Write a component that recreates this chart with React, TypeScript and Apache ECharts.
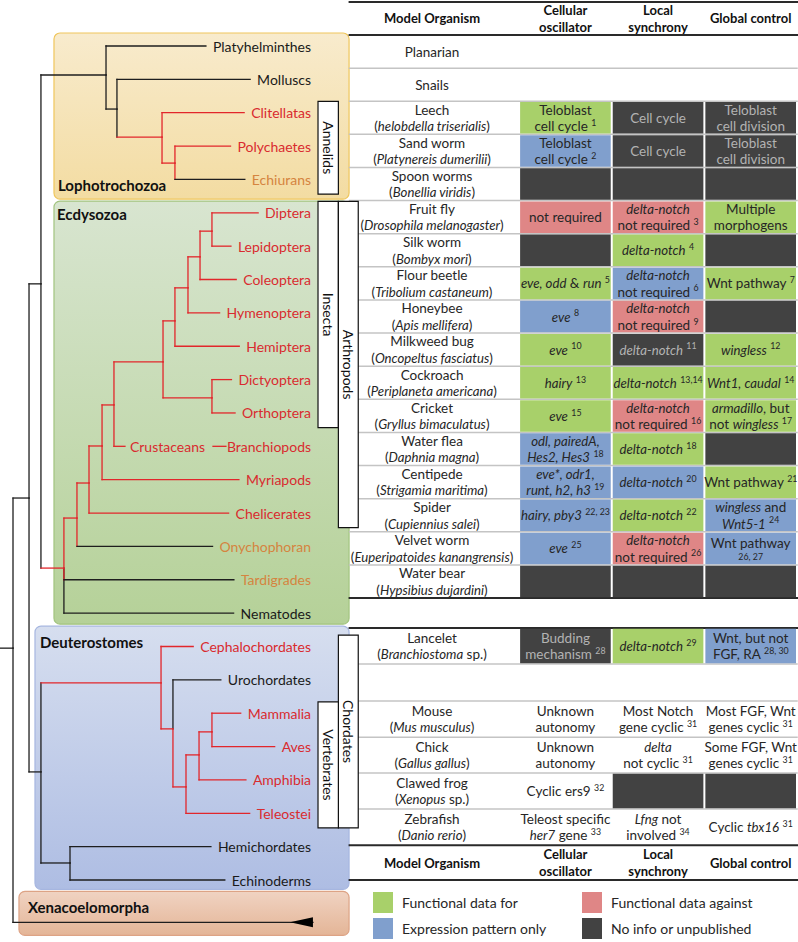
import React, { useEffect, useRef } from "react";
import * as echarts from "echarts";

const FONT = "Lato, 'Open Sans', 'Noto Sans', sans-serif";

// ---------------- Phylogeny ----------------
const CLADES = ["Metazoa", "Bilateria", "Protostomia", "Lophotrochozoa", "Mollusca+Annelida", "Annelida", "Polychaeta+Echiura", "Ecdysozoa", "Panarthropoda", "Arthropoda", "Mandibulata", "Pancrustacea", "Insecta", "Insecta-a", "Insecta-b", "Insecta-c", "Diptera+Lepidoptera", "Dictyoptera+Orthoptera", "Deuterostomia", "Chordata", "Olfactores", "Vertebrata", "Tetrapoda", "Amniota", "Ambulacraria"];
const CLADE_PARENT = ["", "Metazoa", "Bilateria", "Protostomia", "Lophotrochozoa", "Mollusca+Annelida", "Annelida", "Protostomia", "Ecdysozoa", "Panarthropoda", "Arthropoda", "Mandibulata", "Pancrustacea", "Insecta", "Insecta-a", "Insecta-b", "Insecta-c", "Insecta", "Bilateria", "Deuterostomia", "Chordata", "Olfactores", "Vertebrata", "Tetrapoda", "Deuterostomia"];
const CLADE_DEPTH = [0, 1.29, 2.25, 7.49, 8.37, 12.0, 13.04, 4.1, 5.15, 6.12, 7.17, 8.13, 12.08, 13.04, 14.09, 15.06, 16.02, 16.02, 2.25, 11.92, 12.88, 13.93, 14.98, 16.02, 4.59];
const CLADE_ROW = [18.05, 13.55, 7.13, 0.87, 1.89, 2.73, 3.51, 15.65, 14.15, 13.1, 11.99, 10.76, 9.47, 8.24, 7.25, 6.32, 5.55, 10.55, 21.76, 19.09, 20.47, 22.21, 21.25, 20.56, 24.49];
const CLADE_SEGMENTED = [0, 0, 0, 0, 0, 1, 1, 1, 1, 1, 1, 1, 1, 1, 1, 1, 1, 1, 0, 1, 1, 1, 1, 1, 0];

const TAXA = ["Platyhelminthes", "Molluscs", "Clitellatas", "Polychaetes", "Echiurans", "Diptera", "Lepidoptera", "Coleoptera", "Hymenoptera", "Hemiptera", "Dictyoptera", "Orthoptera", "Branchiopods", "Myriapods", "Chelicerates", "Onychophoran", "Tardigrades", "Nematodes", "Cephalochordates", "Urochordates", "Mammalia", "Aves", "Amphibia", "Teleostei", "Hemichordates", "Echinoderms"];
const TAXON_PARENT = ["Lophotrochozoa", "Mollusca+Annelida", "Annelida", "Polychaeta+Echiura", "Polychaeta+Echiura", "Diptera+Lepidoptera", "Diptera+Lepidoptera", "Insecta-c", "Insecta-b", "Insecta-a", "Dictyoptera+Orthoptera", "Dictyoptera+Orthoptera", "Pancrustacea", "Mandibulata", "Arthropoda", "Panarthropoda", "Ecdysozoa", "Ecdysozoa", "Chordata", "Olfactores", "Amniota", "Amniota", "Tetrapoda", "Vertebrata", "Ambulacraria", "Ambulacraria"];
const TAXON_SEGMENTATION = ["no", "no", "yes", "yes", "partial", "yes", "yes", "yes", "yes", "yes", "yes", "yes", "yes", "yes", "yes", "partial", "partial", "no", "yes", "no", "yes", "yes", "yes", "yes", "no", "no"];
const BLACK_STEM_TAXA = ["Nematodes", "Urochordates"];
const INLINE_TAXA = ["Branchiopods"];
const INLINE_CLADE_LABELS = ["Crustaceans"];
const OUTGROUP_ROW = 26.27;

const GROUPS = ["Lophotrochozoa", "Ecdysozoa", "Deuterostomes", "Xenacoelomorpha"];
const BRACKETS = ["Annelids", "Insecta", "Arthropods", "Chordates", "Vertebrates"];
const BRACKET_FIRST = ["Clitellatas", "Diptera", "Diptera", "Cephalochordates", "Mammalia"];
const BRACKET_LAST = ["Echiurans", "Orthoptera", "Chelicerates", "Teleostei", "Teleostei"];
const BRACKET_LANE = [0, 0, 1, 1, 0];

// ---------------- Table ----------------
const COLUMNS = ["Model Organism", "Cellular\noscillator", "Local\nsynchrony", "Global control"];
const ORGANISMS = [
  "Planarian", "Snails", "Leech\n(_helobdella triserialis_)", "Sand worm\n(_Platynereis dumerilii_)",
  "Spoon worms\n(_Bonellia viridis_)", "Fruit fly\n(_Drosophila melanogaster_)", "Silk worm\n(_Bombyx mori_)",
  "Flour beetle\n(_Tribolium castaneum_)", "Honeybee\n(_Apis mellifera_)", "Milkweed bug\n(_Oncopeltus fasciatus_)",
  "Cockroach\n(_Periplaneta americana_)", "Cricket\n(_Gryllus bimaculatus_)", "Water flea\n(_Daphnia magna_)",
  "Centipede\n(_Strigamia maritima_)", "Spider\n(_Cupiennius salei_)", "Velvet worm\n(_Euperipatoides kanangrensis_)",
  "Water bear\n(_Hypsibius dujardini_)", "", "Lancelet\n(_Branchiostoma_ sp.)", "",
  "Mouse\n(_Mus musculus_)", "Chick\n(_Gallus gallus_)", "Clawed frog\n(_Xenopus_ sp.)", "Zebrafish\n(_Danio rerio_)",
];
const OSCILLATOR = ["", "", "Teloblast\ncell cycle ^1^", "Teloblast\ncell cycle ^2^", "", "not required", "", "_eve, odd_ & _run_ ^5^", "_eve_ ^8^", "_eve_ ^10^", "_hairy_ ^13^", "_eve_ ^15^", "_odl, pairedA,_\n_Hes2, Hes3_ ^18^", "_eve*, odr1,_\n_runt, h2, h3_ ^19^", "_hairy, pby3_ ^22, 23^", "_eve_ ^25^", "", "", "Budding\nmechanism ^28^", "", "Unknown\nautonomy", "Unknown\nautonomy", "Cyclic ers9 ^32^", "Teleost specific\n_her7_ gene ^33^"];
const OSCILLATOR_EVIDENCE = ["", "", "F", "E", "N", "A", "N", "F", "E", "F", "F", "F", "E", "E", "E", "E", "N", "", "N", "", "", "", "", ""];
const SYNCHRONY = ["", "", "Cell cycle", "Cell cycle", "", "_delta-notch_\nnot required ^3^", "_delta-notch_ ^4^", "_delta-notch_\nnot required ^6^", "_delta-notch_\nnot required ^9^", "_delta-notch_ ^11^", "_delta-notch_ ^13,14^", "_delta-notch_\nnot required ^16^", "_delta-notch_ ^18^", "_delta-notch_ ^20^", "_delta-notch_ ^22^", "_delta-notch_\nnot required ^26^", "", "", "_delta-notch_ ^29^", "", "Most Notch\ngene cyclic ^31^", "_delta_\nnot cyclic ^31^", "", "_Lfng_ not\ninvolved ^34^"];
const SYNCHRONY_EVIDENCE = ["", "", "N", "N", "N", "A", "F", "E", "A", "N", "F", "A", "F", "E", "F", "A", "N", "", "F", "", "", "", "N", ""];
const GLOBAL_CONTROL = ["", "", "Teloblast\ncell division", "Teloblast\ncell division", "", "Multiple\nmorphogens", "", "Wnt pathway ^7^", "", "_wingless_ ^12^", "_Wnt1, caudal_ ^14^", "_armadillo_, but\nnot _wingless_ ^17^", "", "Wnt pathway ^21^", "_wingless_ and\n_Wnt5-1_ ^24^", "Wnt pathway\n^26, 27^", "", "", "Wnt, but not\nFGF, RA ^28, 30^", "", "Most FGF, Wnt\ngenes cyclic ^31^", "Some FGF, Wnt\ngenes cyclic ^31^", "", "Cyclic _tbx16_ ^31^"];
const GLOBAL_EVIDENCE = ["", "", "N", "N", "N", "F", "N", "F", "N", "F", "F", "F", "N", "F", "E", "E", "N", "", "E", "", "", "", "N", ""];
const EVIDENCE_CODES = ["F", "E", "A", "N"];
const EVIDENCE_NAMES = ["Functional data for", "Expression pattern only", "Functional data against", "No info or unpublished"];

// ---------------- Styling / layout ----------------
const INK = "#262626";
const TREE_BLACK = "#1e1e1e";
const TREE_RED = "#e2262b";
const LABEL_RED = "#d92b2f";
const LABEL_ORANGE = "#d5843f";
const EVIDENCE_FILL = ["#a8d06a", "#809fcd", "#df8686", "#424242"];
const DARK_TEXT = "#b3b3b3";

const LABEL_DEPTH = 24.0;
const STEM_DEPTH = -1.05;
const OUTGROUP_END = 24.15;
const ARROW_TIP = 22.3;
const GROUP_LEFT = [3.3, 3.3, 1.77, 0.48];
const GROUP_RIGHT = 27.06;
const GROUP_TOP = [-0.39, 4.65, 17.39, 25.34];
const GROUP_BOTTOM = [4.59, 17.33, 25.28, 26.66];
const GROUP_TITLE_X = [3.62, 3.54, 2.17, 1.21];
const GROUP_TITLE_ROW = [4.17, 5.04, 17.87, 25.81];
const GROUP_FILL = [["#f8ebcd", "#f3dca2"], ["#d8e5d0", "#b5d198"], ["#d6deef", "#aebde3"], ["#f0d3c2", "#e4b597"]];
const GROUP_STROKE = ["#efc65c", "#a2c47f", "#a6b6e0", "#dda385"];
const LANES = [[24.56, 26.2], [26.2, 27.8]];
const ROW_SPANS = [1, 1, 1, 1, 1, 1, 1, 1, 1, 1, 1, 1, 1, 1, 1, 1, 1, 0.9, 1.09, 1.12, 1.09, 1.08, 1.09, 1.09, 1.05];
const THICK_EDGES = [0, 17, 18, 24, 25];
const COL_CENTER = [-0.94, 0.5, 1.5, 2.5];
const RULE_START = -1.83;

const ROW_EDGES: number[] = [0];
ROW_SPANS.forEach((s, i) => ROW_EDGES.push(+(ROW_EDGES[i] + s).toFixed(3)));

let measureCtx: any = null;
function measure(text: string, size: number, weight = "normal") {
  if (!measureCtx) measureCtx = document.createElement("canvas").getContext("2d");
  measureCtx.font = `${weight} ${size}px ${FONT}`;
  return measureCtx.measureText(text).width;
}

const RICH = {
  n: { fontFamily: FONT, fontSize: 13.5, lineHeight: 16.5 },
  i: { fontFamily: FONT, fontSize: 13.2, fontStyle: "italic", lineHeight: 16.5 },
  s: { fontFamily: FONT, fontSize: 8.8, lineHeight: 10, verticalAlign: "top" },
};

function toRich(s: string) {
  return s
    .split("\n")
    .map((line) => {
      let out = "";
      let buf = "";
      let italic = false;
      let sup = false;
      const flush = () => {
        if (buf) {
          out += `{${sup ? "s" : italic ? "i" : "n"}|${buf}}`;
          buf = "";
        }
      };
      for (const ch of line) {
        if (ch === "_") { flush(); italic = !italic; }
        else if (ch === "^") { flush(); sup = !sup; }
        else buf += ch;
      }
      flush();
      return out;
    })
    .join("\n");
}

function richText(x: number, y: number, markup: string, fill: string) {
  return {
    type: "text",
    x,
    y,
    style: { text: toRich(markup), rich: RICH, fill, fontFamily: FONT, fontSize: 13.5, lineHeight: 16.5, align: "center", verticalAlign: "middle" },
  };
}

function seg(x1: number, y1: number, x2: number, y2: number, stroke: string, lineWidth = 1.3) {
  return { type: "line", shape: { x1, y1, x2, y2 }, style: { stroke, lineWidth, lineCap: "square" } };
}

function buildOption() {
  const ci = (n: string) => CLADES.indexOf(n);
  // --- tree edges ---
  const edges: number[][] = [];
  CLADES.forEach((c, j) => {
    if (!CLADE_PARENT[j]) return;
    const p = ci(CLADE_PARENT[j]);
    edges.push([CLADE_DEPTH[p], CLADE_ROW[p], CLADE_DEPTH[p], CLADE_ROW[j], CLADE_SEGMENTED[p]]);
    edges.push([CLADE_DEPTH[p], CLADE_ROW[j], CLADE_DEPTH[j], CLADE_ROW[j], CLADE_SEGMENTED[j]]);
  });
  TAXA.forEach((t, j) => {
    const p = ci(TAXON_PARENT[j]);
    const red = CLADE_SEGMENTED[p] && BLACK_STEM_TAXA.indexOf(t) < 0 ? 1 : 0;
    edges.push([CLADE_DEPTH[p], CLADE_ROW[p], CLADE_DEPTH[p], j, red]);
  });
  const root = ci("Metazoa");
  edges.push([CLADE_DEPTH[root], CLADE_ROW[root], CLADE_DEPTH[root], OUTGROUP_ROW, 0]);
  edges.push([STEM_DEPTH, CLADE_ROW[root], CLADE_DEPTH[root], CLADE_ROW[root], 0]);
  edges.sort((a, b) => a[4] - b[4]);

  const treeAxes = { coordinateSystem: "cartesian2d", xAxisIndex: 0, yAxisIndex: 0, silent: true, clip: false };
  const tableAxes = { coordinateSystem: "cartesian2d", xAxisIndex: 1, yAxisIndex: 1, silent: true, clip: false };

  const groupSeries = {
    type: "custom", ...treeAxes, z: 1,
    data: GROUPS.map((g, i) => [GROUP_LEFT[i], GROUP_TOP[i], i]),
    renderItem: (params: any, api: any) => {
      const i = api.value(2);
      const a = api.coord([GROUP_LEFT[i], GROUP_TOP[i]]);
      const b = api.coord([GROUP_RIGHT, GROUP_BOTTOM[i]]);
      const t = api.coord([GROUP_TITLE_X[i], GROUP_TITLE_ROW[i]]);
      return {
        type: "group",
        children: [
          {
            type: "rect",
            shape: { x: a[0], y: a[1], width: b[0] - a[0], height: b[1] - a[1], r: 6 },
            style: {
              fill: new echarts.graphic.LinearGradient(0, 0, 0, 1, [
                { offset: 0, color: GROUP_FILL[i][0] },
                { offset: 1, color: GROUP_FILL[i][1] },
              ]),
              stroke: GROUP_STROKE[i],
              lineWidth: 1.2,
            },
          },
          {
            type: "text", x: t[0], y: t[1],
            style: { text: GROUPS[i], fill: "#111", fontFamily: FONT, fontSize: 15, fontWeight: "bold", align: "left", verticalAlign: "middle" },
          },
        ],
      };
    },
  };

  const edgeSeries = {
    type: "custom", ...treeAxes, z: 2,
    data: edges,
    renderItem: (params: any, api: any) => {
      const p1 = api.coord([api.value(0), api.value(1)]);
      const p2 = api.coord([api.value(2), api.value(3)]);
      return seg(p1[0], p1[1], p2[0], p2[1], api.value(4) ? TREE_RED : TREE_BLACK);
    },
  };

  const taxaSeries = {
    type: "custom", ...treeAxes, z: 3,
    data: TAXA.map((t, j) => [CLADE_DEPTH[ci(TAXON_PARENT[j])], j, j]),
    renderItem: (params: any, api: any) => {
      const j = api.value(2);
      const name = TAXA[j];
      const start = api.coord([api.value(0), api.value(1)]);
      const anchor = api.coord([LABEL_DEPTH, api.value(1)]);
      const status = TAXON_SEGMENTATION[j];
      const branch = status === "yes" ? TREE_RED : TREE_BLACK;
      const color = status === "yes" ? LABEL_RED : status === "partial" ? LABEL_ORANGE : "#1a1a1a";
      const labelLeft = anchor[0] - measure(name, 14);
      const children: any[] = [];
      const k = INLINE_TAXA.indexOf(name);
      if (k >= 0) {
        const tx = start[0] + 16;
        const tw = measure(INLINE_CLADE_LABELS[k], 14);
        children.push(seg(start[0], start[1], start[0] + 11, start[1], branch));
        children.push({ type: "text", x: tx, y: start[1], style: { text: INLINE_CLADE_LABELS[k], fill: color, fontFamily: FONT, fontSize: 14, align: "left", verticalAlign: "middle" } });
        children.push(seg(tx + tw + 8, start[1], labelLeft - 1, start[1], branch));
      } else {
        children.push(seg(start[0], start[1], labelLeft - 7, start[1], branch));
      }
      children.push({ type: "text", x: anchor[0], y: anchor[1], style: { text: name, fill: color, fontFamily: FONT, fontSize: 14, align: "right", verticalAlign: "middle" } });
      return { type: "group", children };
    },
  };

  const outgroupSeries = {
    type: "custom", ...treeAxes, z: 3,
    data: [[CLADE_DEPTH[root], OUTGROUP_ROW]],
    renderItem: (params: any, api: any) => {
      const a = api.coord([api.value(0), api.value(1)]);
      const b = api.coord([OUTGROUP_END, api.value(1)]);
      const tip = api.coord([ARROW_TIP, api.value(1)]);
      return {
        type: "group",
        children: [
          seg(a[0], a[1], b[0], b[1], TREE_BLACK),
          { type: "polygon", shape: { points: [[tip[0], tip[1]], [b[0], b[1] - 5], [b[0], b[1] + 5]] }, style: { fill: "#000" } },
        ],
      };
    },
  };

  const bracketSeries = {
    type: "custom", ...treeAxes, z: 5,
    data: BRACKETS.map((b, i) => [LANES[BRACKET_LANE[i]][0], TAXA.indexOf(BRACKET_FIRST[i]), i]),
    renderItem: (params: any, api: any) => {
      const i = api.value(2);
      const lane = LANES[BRACKET_LANE[i]];
      const a = api.coord([lane[0], TAXA.indexOf(BRACKET_FIRST[i]) - 0.34]);
      const b = api.coord([lane[1], TAXA.indexOf(BRACKET_LAST[i]) + 0.44]);
      return {
        type: "group",
        children: [
          { type: "rect", shape: { x: a[0], y: a[1], width: b[0] - a[0], height: b[1] - a[1] }, style: { fill: "#fff", stroke: "#111", lineWidth: 1.2 } },
          {
            type: "text", x: (a[0] + b[0]) / 2, y: (a[1] + b[1]) / 2, rotation: -Math.PI / 2,
            style: { text: BRACKETS[i], fill: "#111", fontFamily: FONT, fontSize: 14, align: "center", verticalAlign: "middle" },
          },
        ],
      };
    },
  };

  // --- table ---
  const COLUMN_TEXTS = [OSCILLATOR, SYNCHRONY, GLOBAL_CONTROL];
  const COLUMN_EVIDENCE = [OSCILLATOR_EVIDENCE, SYNCHRONY_EVIDENCE, GLOBAL_EVIDENCE];

  const rules: number[][] = [[-1, 1]];
  ROW_EDGES.forEach((e, k) => {
    rules.push([e, THICK_EDGES.indexOf(k) >= 0 ? 1 : 0]);
  });
  const ruleSeries = {
    type: "custom", ...tableAxes, z: 2,
    data: rules,
    renderItem: (params: any, api: any) => {
      const a = api.coord([RULE_START, api.value(0)]);
      const b = api.coord([3, api.value(0)]);
      const thick = api.value(1);
      return seg(a[0], a[1], b[0], b[1], thick ? "#2a2a2a" : "#c4c4c4", thick ? 2 : 1.5);
    },
  };

  const cellSeries = EVIDENCE_CODES.map((code, e) => {
    const data: number[][] = [];
    COLUMN_EVIDENCE.forEach((arr, col) => arr.forEach((v, row) => { if (v === code) data.push([col, row]); }));
    return {
      type: "custom", ...tableAxes, z: 3,
      name: EVIDENCE_NAMES[e],
      itemStyle: { color: EVIDENCE_FILL[e] },
      data,
      renderItem: (params: any, api: any) => {
        const col = api.value(0);
        const row = api.value(1);
        const a = api.coord([col, ROW_EDGES[row]]);
        const b = api.coord([col + 1, ROW_EDGES[row + 1]]);
        const children: any[] = [
          { type: "rect", shape: { x: a[0] + 1, y: a[1] + 0.8, width: b[0] - a[0] - 2, height: b[1] - a[1] - 1.6 }, style: { fill: EVIDENCE_FILL[e] } },
        ];
        const text = COLUMN_TEXTS[col][row];
        if (text) children.push(richText((a[0] + b[0]) / 2, (a[1] + b[1]) / 2, text, code === "N" ? DARK_TEXT : INK));
        return { type: "group", children };
      },
    };
  });

  const textData: number[][] = [];
  ORGANISMS.forEach((o, row) => { if (o) textData.push([COL_CENTER[0], row, -1, row]); });
  COLUMN_TEXTS.forEach((arr, col) => arr.forEach((t, row) => {
    if (t && !COLUMN_EVIDENCE[col][row]) textData.push([COL_CENTER[col + 1], row, col, row]);
  }));
  const textSeries = {
    type: "custom", ...tableAxes, z: 4,
    data: textData,
    renderItem: (params: any, api: any) => {
      const col = api.value(2);
      const row = api.value(3);
      const p = api.coord([api.value(0), (ROW_EDGES[row] + ROW_EDGES[row + 1]) / 2]);
      const text = col < 0 ? ORGANISMS[row] : COLUMN_TEXTS[col][row];
      return richText(p[0], p[1], text, INK);
    },
  };

  const footerRow = ROW_SPANS.length - 1;
  const headerData: number[][] = [];
  COLUMNS.forEach((c, k) => {
    headerData.push([COL_CENTER[k], -0.5, k]);
    headerData.push([COL_CENTER[k], (ROW_EDGES[footerRow] + ROW_EDGES[footerRow + 1]) / 2, k]);
  });
  const headerSeries = {
    type: "custom", ...tableAxes, z: 4,
    data: headerData,
    renderItem: (params: any, api: any) => {
      const p = api.coord([api.value(0), api.value(1)]);
      return {
        type: "text", x: p[0], y: p[1],
        style: { text: COLUMNS[api.value(2)], fill: "#111", fontFamily: FONT, fontSize: 13, fontWeight: "bold", lineHeight: 16.5, align: "center", verticalAlign: "middle" },
      };
    },
  };

  const legendCommon = {
    orient: "vertical", top: 892, height: 50, padding: 0, itemWidth: 20, itemHeight: 21, itemGap: 5, icon: "rect", selectedMode: false,
    textStyle: { fontFamily: FONT, fontSize: 14, color: INK, padding: [0, 0, 0, 4] },
  };

  return {
    animation: false,
    grid: [
      { left: 0, top: 46, width: 358, height: 834 },
      { left: 357, top: 1.88, width: 440, height: 878.1 },
    ],
    xAxis: [
      { type: "value", gridIndex: 0, min: -1.047, max: 27.78, show: false },
      { type: "value", gridIndex: 1, min: -1.75, max: 3, show: false },
    ],
    yAxis: [
      { type: "value", gridIndex: 0, min: 0, max: 25, inverse: true, show: false },
      { type: "value", gridIndex: 1, min: -1, max: ROW_EDGES[ROW_EDGES.length - 1], inverse: true, show: false },
    ],
    legend: [
      { ...legendCommon, orient: "vertical", left: 373, data: [EVIDENCE_NAMES[0], EVIDENCE_NAMES[1]] },
      { ...legendCommon, orient: "vertical", left: 582, data: [EVIDENCE_NAMES[2], EVIDENCE_NAMES[3]] },
    ],
    series: [groupSeries, edgeSeries, taxaSeries, outgroupSeries, ruleSeries, ...cellSeries, textSeries, headerSeries, bracketSeries],
  };
}

export default function App() {
  const ref = useRef<HTMLDivElement>(null);
  useEffect(() => {
    document.body.style.margin = "0";
    const chart = echarts.init(ref.current as HTMLDivElement, null, { renderer: "svg" });
    chart.setOption(buildOption() as any);
    return () => chart.dispose();
  }, []);
  return <div ref={ref} style={{ width: 798, height: 942 }} />;
}
